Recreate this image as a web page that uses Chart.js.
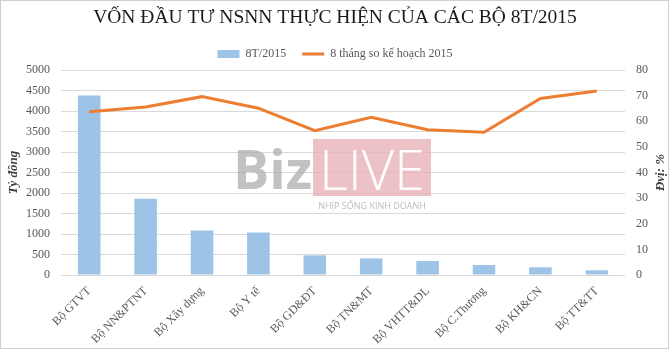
<!DOCTYPE html>
<html><head><meta charset="utf-8">
<script src="https://cdn.jsdelivr.net/npm/chart.js@4/dist/chart.umd.min.js"></script>
<style>html,body{margin:0;padding:0;background:#fff}#wrap{width:670px;height:350px;position:relative}</style>
</head><body><div id="wrap"><canvas id="c" width="670" height="350"></canvas></div>
<script>
const categories = ['Bộ GTVT','Bộ NN&PTNT','Bộ Xây dựng','Bộ Y tế','Bộ GD&ĐT','Bộ TN&MT','Bộ VHTT&DL','Bộ C.Thương','Bộ KH&CN','Bộ TT&TT'];
const barValues = [4380, 1860, 1085, 1035, 480, 405, 340, 243, 188, 115];
const lineValues = [63.7, 65.6, 69.6, 65.1, 56.3, 61.5, 56.7, 55.7, 68.9, 71.8];
const barLabel = '8T/2015';
const lineLabel = '8 tháng so kế hoạch 2015';
const titleText = 'VỐN ĐẦU TƯ NSNN THỰC HIỆN CỦA CÁC BỘ 8T/2015';
const leftTitle = 'Tỷ đồng';
const rightTitle = 'Đvị: %';

const SERIF = '"Liberation Serif", "DejaVu Serif", serif';
const tickColor = '#595959';

const extras = {
  id: 'extras',
  beforeDatasetsDraw(chart) {
    const ctx = chart.ctx;
    ctx.save();
    ctx.globalAlpha = 0.75;
    ctx.fillStyle = '#e6adb3';
    ctx.fillRect(313, 139, 118, 57);
    ctx.globalAlpha = 0.7;
    ctx.fillStyle = '#a8a8a8';
    ctx.font = 'bold 54px "Open Sans", "DejaVu Sans", sans-serif';
    ctx.textBaseline = 'alphabetic';
    ctx.textAlign = 'right';
    ctx.fillText('Biz', 312, 189);
    ctx.globalAlpha = 0.95;
    ctx.fillStyle = '#ffffff';
    ctx.font = '300 56px "Open Sans", "DejaVu Sans", sans-serif';
    ctx.textAlign = 'center';
    ctx.fillText('LIVE', 372, 190);
    ctx.fillStyle = '#b8b8b8';
    ctx.font = '9px "Open Sans", "DejaVu Sans", sans-serif';
    ctx.fillText('NHỊP SỐNG KINH DOANH', 372, 209);
    ctx.restore();
  },
  afterDraw(chart) {
    const ctx = chart.ctx;
    ctx.save();
    ctx.fillStyle = '#404040';
    ctx.font = 'bold italic 13px ' + SERIF;
    ctx.translate(661, (chart.chartArea.top + chart.chartArea.bottom) / 2);
    ctx.rotate(-Math.PI / 2);
    ctx.textAlign = 'center';
    ctx.textBaseline = 'middle';
    ctx.fillText(rightTitle, 0, 0);
    ctx.restore();
    ctx.save();
    ctx.strokeStyle = '#cfcfcf';
    ctx.lineWidth = 1;
    ctx.strokeRect(0.5, 0.5, 668, 348);
    ctx.restore();
  }
};

new Chart(document.getElementById('c'), {
  data: {
    labels: categories,
    datasets: [
      {
        type: 'line', label: lineLabel, data: lineValues, yAxisID: 'y2',
        borderColor: '#ed7d31', backgroundColor: '#ed7d31', borderWidth: 3,
        pointRadius: 0, tension: 0, pointStyle: 'line', order: 0
      },
      {
        type: 'bar', label: barLabel, data: barValues, yAxisID: 'y',
        backgroundColor: '#9dc3e6', borderWidth: 0,
        categoryPercentage: 0.8, barPercentage: 0.5, pointStyle: 'rect', order: 1
      }
    ]
  },
  options: {
    responsive: false, animation: false,
    layout: { padding: { top: 0, left: 0, right: 0, bottom: 0 } },
    plugins: {
      title: {
        display: true, text: titleText, color: '#1a1a1a',
        font: { family: SERIF, size: 19.5, weight: 'normal' },
        padding: { top: 6, bottom: 2.6 }
      },
      legend: {
        display: true, reverse: true,
        labels: {
          usePointStyle: true, pointStyleWidth: 22, boxHeight: 8,
          color: tickColor, font: { family: SERIF, size: 12 }, padding: 16
        }
      },
      tooltip: { enabled: false }
    },
    scales: {
      x: {
        grid: { display: false },
        border: { display: false },
        ticks: { color: tickColor, font: { family: SERIF, size: 12 }, minRotation: 45, maxRotation: 45, padding: 1 },
        afterFit(s) { s.height = 75; }
      },
      y: {
        position: 'left', min: 0, max: 5000,
        ticks: { stepSize: 500, color: tickColor, font: { family: SERIF, size: 12 }, padding: 11,
          callback: (v) => String(v) },
        grid: { color: '#d9d9d9', drawTicks: false },
        border: { display: false },
        title: { display: true, text: leftTitle, color: '#404040', font: { family: SERIF, size: 13, style: 'italic', weight: 'bold' }, padding: { top: 6, bottom: 0 } },
        afterFit(s) { s.width = 61; }
      },
      y2: {
        position: 'right', min: 0, max: 80,
        ticks: { stepSize: 10, color: tickColor, font: { family: SERIF, size: 12 }, padding: 11,
          callback: (v) => String(v) },
        grid: { display: false, drawTicks: false },
        border: { display: false },
        afterFit(s) { s.width = 45; }
      }
    }
  },
  plugins: [extras]
});
</script></body></html>
